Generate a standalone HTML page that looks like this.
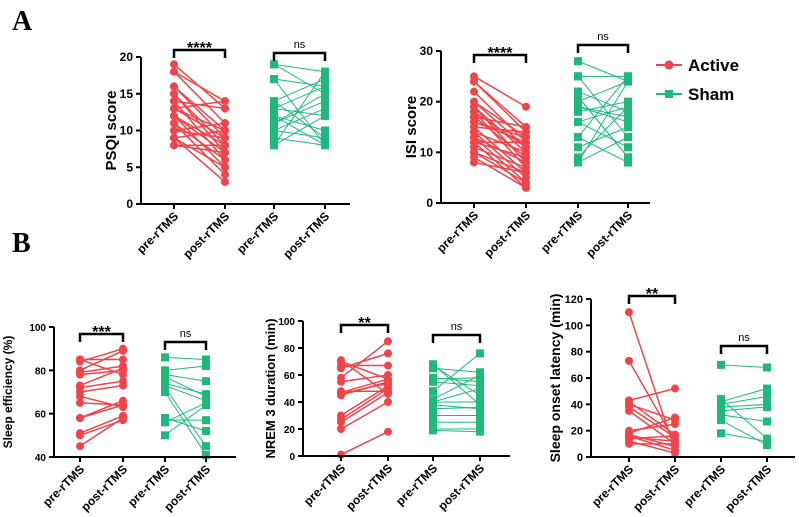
<!DOCTYPE html>
<html><head><meta charset="utf-8"><style>
body{margin:0;background:#fff;}
svg{display:block;font-family:"Liberation Sans",Arial,sans-serif;}
</style></head><body>
<svg id="fig" width="799" height="517" viewBox="0 0 799 517">
<text x="12" y="30" font-family="Liberation Serif" font-weight="bold" font-size="28">A</text>
<text x="12" y="252" font-family="Liberation Serif" font-weight="bold" font-size="28">B</text>
<g>
<g><line x1="656" y1="65" x2="682" y2="65" stroke="#f0444a" stroke-width="2"/><circle cx="669" cy="65" r="4.5" fill="#f0444a"/><text x="688" y="71" font-size="17" font-weight="bold">Active</text></g>
<g><line x1="656" y1="94" x2="682" y2="94" stroke="#1fb97b" stroke-width="2"/><rect x="665" y="90" width="8" height="8" fill="#1fb97b"/><text x="688" y="100" font-size="17" font-weight="bold">Sham</text></g>
</g>
</svg>
<script>
const categories = ["pre-rTMS","post-rTMS","pre-rTMS","post-rTMS"];
const psqiTicks = [0,5,10,15,20];
const psqiActivePre = [19,18,18,16,16,15,15,14,14,13,13,13,12,12,12,11,11,10,10,9,9,9,8,8];
const psqiActivePost = [13,14,11,10,9,8,7,6,13,14,10,9,5,8,7,6,4,11,9,3,10,5,8,7];
const psqiShamPre = [19,19,17,17,14,14,13,13,12,12,11,11,10,10,9,8,8];
const psqiShamPost = [18,15,16,8,17,9,16,12,8,10,15,14,9,13,8,18,12];
const isiTicks = [0,10,20,30];
const isiActivePre = [25,24,24,22,20,19,19,18,18,17,16,15,14,14,13,13,12,12,11,10,10,9,8,17,15,20,12,16];
const isiActivePost = [19,15,14,12,13,10,8,11,7,9,12,6,5,10,4,8,3,12,7,6,4,3,6,15,14,11,9,13];
const isiShamPre = [28,25,25,22,21,20,19,18,16,16,13,13,11,9,8,8,21,19];
const isiShamPost = [24,25,13,18,9,24,16,20,19,11,8,25,15,19,24,13,9,17];
const seTicks = [40,60,80,100];
const seActivePre = [45,50,51,58,58,65,68,70,72,73,78,79,80,84,85,85];
const seActivePost = [58,57,59,64,66,64,63,73,75,81,80,82,89,90,85,78];
const seShamPre = [86,80,78,77,74,73,72,70,58,57,56,50];
const seShamPost = [85,82,75,68,69,66,45,41,52,57,65,64];
const n3Ticks = [0,20,40,60,80,100];
const n3ActivePre = [1,20,25,27,30,45,47,48,55,58,65,67,70,71,46];
const n3ActivePost = [18,40,47,50,52,55,57,48,60,85,76,67,57,46,54];
const n3ShamPre = [19,20,25,30,38,40,40,42,48,55,58,65,67,68,35,57];
const n3ShamPost = [18,20,25,30,35,40,50,60,76,52,55,62,45,38,36,58];
const solTicks = [0,20,40,60,80,100,120];
const solActivePre = [110,73,43,40,38,35,20,18,17,16,15,14,12,10,42];
const solActivePost = [5,12,52,28,15,10,25,30,8,5,12,16,3,10,17];
const solShamPre = [70,44,42,40,38,35,32,28,18];
const solShamPost = [68,14,52,46,40,38,27,9,12];

const NS="http://www.w3.org/2000/svg";
const svg=document.getElementById('fig');
function mk(tag,attrs,parent){const e=document.createElementNS(NS,tag);for(const k in attrs)e.setAttribute(k,attrs[k]);(parent||svg).appendChild(e);return e;}

function panel(o){
  const g=mk('g',{});
  
  
  const ymin=o.ticks[0],ymax=o.ticks[o.ticks.length-1];
  const y=v=>o.y0+(v-ymin)/(ymax-ymin)*(o.y1-o.y0);
  const x=i=>o.xs[i];
  function series(pre,post,ci,color,shape,lw,nm){
    const sg=mk('g',{},g);
    
    
    for(let i=0;i<pre.length;i++){
      const l=mk('line',{x1:x(ci),y1:y(pre[i]),x2:x(ci+1),y2:y(post[i]),stroke:color,'stroke-width':lw},sg);
      
      
    }
    for(let i=0;i<pre.length;i++){
      [[ci,pre[i]],[ci+1,post[i]]].forEach(([c,v])=>{
        let m;
        if(shape==='c') m=mk('circle',{cx:x(c),cy:y(v),r:4,fill:color},sg);
        else m=mk('rect',{x:x(c)-4,y:y(v)-4,width:8,height:8,fill:color},sg);
        
        
      });
    }
  }
  series(o.aPre,o.aPost,0,'#f0444a','c',1.5,'active-series');
  series(o.sPre,o.sPost,2,'#1fb97b','s',1,'sham-series');
  const ax=mk('g',{},g);
  
  
  mk('line',{x1:o.ax,y1:y(ymin)+1,x2:o.ax,y2:y(ymax),stroke:'#000','stroke-width':2},ax);
  o.ticks.forEach(t=>{
    mk('line',{x1:o.ax-5,y1:y(t),x2:o.ax,y2:y(t),stroke:'#000','stroke-width':2},ax);
    const tx=mk('text',{x:o.ax-8,y:y(t)+4,'font-size':o.fs,'font-weight':'bold','text-anchor':'end'},ax);
    tx.textContent=t;
    
    
  });
  const yt=mk('text',{x:0,y:0,'font-size':o.tfs,'font-weight':'bold','text-anchor':'middle',transform:`translate(${o.tx},${(y(ymin)+y(ymax))/2}) rotate(-90)`},g);
  yt.textContent=o.title;
  
  
  const xa=mk('g',{},g);
  
  
  mk('line',{x1:o.ax-1,y1:y(ymin),x2:o.xend,y2:y(ymin),stroke:'#000','stroke-width':2},xa);
  categories.forEach((c,i)=>{
    mk('line',{x1:x(i),y1:y(ymin),x2:x(i),y2:y(ymin)+5,stroke:'#000','stroke-width':2},xa);
    const t=mk('text',{x:0,y:0,'font-size':12,'font-weight':'bold','text-anchor':'end',transform:`translate(${x(i)+5},${y(ymin)+13}) rotate(-45)`},xa);
    t.textContent=c;
    
    
  });
  [[0,o.b1,o.s1,'active'],[2,o.b2,o.s2,'sham']].forEach(([ci,by,lab,nm])=>{
    const bg=mk('g',{},g);
    
    
    mk('path',{d:`M${x(ci)},${by+8}V${by}H${x(ci+1)}V${by+8}`,fill:'none',stroke:'#000','stroke-width':2.5},bg);
    const t=mk('text',{x:(x(ci)+x(ci+1))/2,y:lab==='ns'?by-5:by+3,'font-size':lab==='ns'?11:16,'font-weight':lab==='ns'?'normal':'bold','text-anchor':'middle'},bg);
    t.textContent=lab;
  });
}
panel({name:'psqi-panel',ticks:psqiTicks,y0:204,y1:57,xs:[174,225,274,325],ax:141,xend:350,aPre:psqiActivePre,aPost:psqiActivePost,sPre:psqiShamPre,sPost:psqiShamPost,title:'PSQI score',tx:116,fs:12,tfs:15,b1:50,b2:53,s1:'****',s2:'ns'});
panel({name:'isi-panel',ticks:isiTicks,y0:203,y1:51,xs:[474,526,578,628],ax:441,xend:650,aPre:isiActivePre,aPost:isiActivePost,sPre:isiShamPre,sPost:isiShamPost,title:'ISI score',tx:416,fs:12,tfs:15,b1:55,b2:45,s1:'****',s2:'ns'});
panel({name:'sleep-efficiency-panel',ticks:seTicks,y0:457,y1:327,xs:[80,123,165,206],ax:54,xend:236,aPre:seActivePre,aPost:seActivePost,sPre:seShamPre,sPost:seShamPost,title:'Sleep efficiency (%)',tx:12,fs:10,tfs:12,b1:334,b2:342,s1:'***',s2:'ns'});
panel({name:'nrem3-panel',ticks:n3Ticks,y0:456,y1:321,xs:[341,388,433,480],ax:303,xend:510,aPre:n3ActivePre,aPost:n3ActivePost,sPre:n3ShamPre,sPost:n3ShamPost,title:'NREM 3 duration (min)',tx:275,fs:10,tfs:13,b1:325,b2:335,s1:'**',s2:'ns'});
panel({name:'sleep-onset-latency-panel',ticks:solTicks,y0:457,y1:299,xs:[629,675,721,767],ax:591,xend:795,aPre:solActivePre,aPost:solActivePost,sPre:solShamPre,sPost:solShamPost,title:'Sleep onset latency (min)',tx:560,fs:11,tfs:14,b1:296,b2:346,s1:'**',s2:'ns'});
</script>
</body></html>
